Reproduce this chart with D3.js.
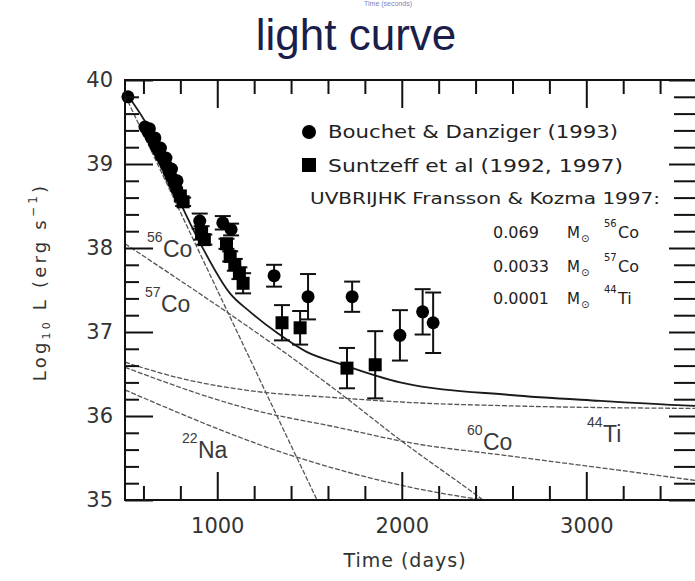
<!DOCTYPE html>
<html><head><meta charset="utf-8">
<script src="https://cdn.jsdelivr.net/npm/d3@7/dist/d3.min.js"></script>
<style>body{margin:0;background:#fff;} svg{display:block;}</style>
</head><body>
<svg id="chart" width="695" height="581"></svg>
<script>
// ---------- data ----------
const bouchetDay = [516, 608, 625, 641, 657, 670, 684, 697, 711, 724, 738, 752, 766, 780, 795, 632, 662, 692, 722, 752, 782, 905, 1030, 1075, 1308, 1492, 1731, 1990, 2113, 2170];
const bouchetLum = [39.80, 39.44, 39.38, 39.32, 39.26, 39.20, 39.15, 39.09, 39.04, 38.98, 38.91, 38.84, 38.77, 38.70, 38.63, 39.42, 39.31, 39.19, 39.07, 38.94, 38.80, 38.32, 38.30, 38.22, 37.67, 37.42, 37.42, 36.96, 37.24, 37.11];
const bouchetErr = [0, 0, 0, 0, 0, 0, 0, 0, 0, 0, 0, 0, 0, 0, 0, 0, 0, 0, 0, 0, 0, 0.09, 0.08, 0.07, 0.13, 0.27, 0.18, 0.30, 0.27, 0.36];

const suntzeffDay = [800, 815, 915, 930, 1050, 1070, 1095, 1120, 1140, 1351, 1449, 1703, 1856];
const suntzeffLum = [38.62, 38.55, 38.18, 38.10, 38.05, 37.90, 37.80, 37.70, 37.58, 37.11, 37.05, 36.57, 36.61];
const suntzeffErr = [0, 0.05, 0.08, 0.06, 0.06, 0.06, 0.07, 0.07, 0.12, 0.21, 0.20, 0.24, 0.40];

const totalDay = [500, 636, 798, 907, 1069, 1178, 1324, 1487, 1666, 1991, 2588, 3076, 3493, 3600];
const totalLum = [39.86, 39.40, 38.55, 38.06, 37.46, 37.24, 36.99, 36.76, 36.62, 36.40, 36.25, 36.18, 36.13, 36.12];

const co56Day = [500, 1069, 1541, 1600];
const co56Lum = [39.82, 37.18, 35.00, 34.73];
const co57Day = [500, 1666, 2000, 2440, 2500];
const co57Lum = [38.05, 36.27, 35.70, 35.00, 34.90];
const ti44Day = [500, 800, 1180, 1630, 2050, 2600, 3600];
const ti44Lum = [36.64, 36.45, 36.30, 36.22, 36.16, 36.12, 36.09];
const co60Day = [500, 1180, 1640, 2050, 2600, 3500, 3600];
const co60Lum = [36.58, 36.08, 35.87, 35.68, 35.52, 35.26, 35.23];
const na22Day = [500, 1430, 2050, 2500];
const na22Lum = [36.31, 35.51, 35.15, 34.98];

const xMajorTicks = [1000, 2000, 3000];
const xMinorTicks = [600, 800, 1200, 1400, 1600, 1800, 2200, 2400, 2600, 2800, 3200, 3400];
const yMajorTicks = [35, 36, 37, 38, 39, 40];
const yMinorTicks = [35.2, 35.4, 35.6, 35.8, 36.2, 36.4, 36.6, 36.8, 37.2, 37.4, 37.6, 37.8, 38.2, 38.4, 38.6, 38.8, 39.2, 39.4, 39.6, 39.8];

// ---------- layout ----------
const svg = d3.select("#chart");
const L = 125, R = 697, T = 80, B = 500;
const x = d3.scaleLinear().domain([500, 3600]).range([L, R]);
const y = d3.scaleLinear().domain([35, 40]).range([B, T]);
const FONT = "'DejaVu Sans', sans-serif";
const SANS = "'Liberation Sans', Arial, sans-serif";

// title
svg.append("text").attr("x", 388).attr("y", 6).attr("text-anchor", "middle")
  .attr("font-family", SANS).attr("font-size", 7).attr("fill", "#7a84c0").text("Time (seconds)");
svg.append("text").attr("x", 356).attr("y", 50).attr("text-anchor", "middle")
  .attr("font-family", SANS).attr("font-size", 44).attr("fill", "#1b1e4b").text("light curve");

// clip
svg.append("clipPath").attr("id", "clip").append("rect")
  .attr("x", L).attr("y", T).attr("width", R - L).attr("height", B - T);

// curves
const line = d3.line().x(d => x(d[0])).y(d => y(d[1])).curve(d3.curveMonotoneX);
const comps = [[co56Day, co56Lum], [co57Day, co57Lum], [ti44Day, ti44Lum], [co60Day, co60Lum], [na22Day, na22Lum]];
const cg = svg.append("g").attr("clip-path", "url(#clip)");
comps.forEach(c => {
  cg.append("path").attr("d", line(d3.zip(c[0], c[1])))
    .attr("fill", "none").attr("stroke", "#555").attr("stroke-width", 1.3).attr("stroke-dasharray", "5,1.8");
});
cg.append("path").attr("d", line(d3.zip(totalDay, totalLum)))
  .attr("fill", "none").attr("stroke", "#1a1a1a").attr("stroke-width", 1.8);

// error bars + markers
function errBars(days, lums, errs) {
  const g = svg.append("g").attr("stroke", "#111").attr("stroke-width", 2);
  days.forEach((d, i) => {
    if (!errs[i]) return;
    const cx = x(d), y1 = y(lums[i] - errs[i]), y2 = y(lums[i] + errs[i]);
    g.append("line").attr("x1", cx).attr("x2", cx).attr("y1", y1).attr("y2", y2);
    g.append("line").attr("x1", cx - 8).attr("x2", cx + 8).attr("y1", y1).attr("y2", y1);
    g.append("line").attr("x1", cx - 8).attr("x2", cx + 8).attr("y1", y2).attr("y2", y2);
  });
}
errBars(bouchetDay, bouchetLum, bouchetErr);
errBars(suntzeffDay, suntzeffLum, suntzeffErr);
svg.append("g").selectAll("circle").data(d3.zip(bouchetDay, bouchetLum)).join("circle")
  .attr("cx", d => x(d[0])).attr("cy", d => y(d[1])).attr("r", 6.5).attr("fill", "#000");
svg.append("g").selectAll("rect").data(d3.zip(suntzeffDay, suntzeffLum)).join("rect")
  .attr("x", d => x(d[0]) - 6.5).attr("y", d => y(d[1]) - 6.5).attr("width", 13).attr("height", 13).attr("fill", "#000");

// ticks (inward, all four sides)
function tickAxis(axisFn, scale, vals, size, tr) {
  const g = svg.append("g").attr("transform", tr)
    .call(axisFn(scale).tickValues(vals).tickSize(size).tickFormat(""));
  g.select(".domain").remove();
  g.selectAll("line").attr("stroke", "#111").attr("stroke-width", 2);
}
tickAxis(d3.axisTop, x, xMajorTicks, 28, `translate(0,${B})`);
tickAxis(d3.axisTop, x, xMinorTicks, 14, `translate(0,${B})`);
tickAxis(d3.axisBottom, x, xMajorTicks, 28, `translate(0,${T})`);
tickAxis(d3.axisBottom, x, xMinorTicks, 14, `translate(0,${T})`);
tickAxis(d3.axisRight, y, yMajorTicks, 28, `translate(${L},0)`);
tickAxis(d3.axisRight, y, yMinorTicks, 14, `translate(${L},0)`);
tickAxis(d3.axisLeft, y, yMajorTicks, 28, `translate(${R},0)`);
tickAxis(d3.axisLeft, y, yMinorTicks, 23, `translate(${R},0)`);

// frame
svg.append("rect").attr("x", L).attr("y", T).attr("width", R - L).attr("height", B - T)
  .attr("fill", "none").attr("stroke", "#111").attr("stroke-width", 2);

// tick labels
const xl = svg.append("g").attr("transform", `translate(0,${B})`)
  .call(d3.axisBottom(x).tickValues(xMajorTicks).tickSize(0).tickPadding(18).tickFormat(d3.format("d")));
xl.select(".domain").remove();
xl.selectAll("text").attr("font-family", FONT).attr("font-size", 21).attr("fill", "#333");
const yl = svg.append("g").attr("transform", `translate(${L},0)`)
  .call(d3.axisLeft(y).tickValues(yMajorTicks).tickSize(0).tickPadding(12).tickFormat(d3.format("d")));
yl.select(".domain").remove();
yl.selectAll("text").attr("font-family", FONT).attr("font-size", 21).attr("fill", "#333");

// axis titles
svg.append("text").attr("x", 405).attr("y", 567).attr("text-anchor", "middle")
  .attr("font-family", FONT).attr("font-size", 19).attr("fill", "#333").attr("letter-spacing", 1)
  .text("Time (days)");
const yt = svg.append("text").attr("transform", "translate(46,282) rotate(-90)").attr("text-anchor", "middle")
  .attr("font-family", FONT).attr("font-size", 18).attr("fill", "#333").attr("letter-spacing", 3.2);
yt.append("tspan").text("Log");
yt.append("tspan").attr("font-size", 11).attr("dy", 4).text("10");
yt.append("tspan").attr("dy", -4).text(" L (erg s");
yt.append("tspan").attr("font-size", 12).attr("dy", -9).text("−1");
yt.append("tspan").attr("dy", 9).text(")");

// legend
svg.append("circle").attr("cx", 309).attr("cy", 132).attr("r", 7).attr("fill", "#000");
svg.append("rect").attr("x", 302).attr("y", 158).attr("width", 14).attr("height", 14).attr("fill", "#000");
function lt(xp, yp, txt, size, len) {
  svg.append("text").attr("x", xp).attr("y", yp).attr("font-family", FONT).attr("font-size", size)
    .attr("fill", "#222").attr("textLength", len).attr("lengthAdjust", "spacingAndGlyphs").text(txt);
}
lt(328, 138, "Bouchet & Danziger (1993)", 18, 290);
lt(328, 172, "Suntzeff et al (1992, 1997)", 18, 295);
lt(310, 204, "UVBRIJHK Fransson & Kozma 1997:", 16, 350);
const massRows = [["0.069", "56", "Co", 238], ["0.0033", "57", "Co", 272], ["0.0001", "44", "Ti", 304]];
massRows.forEach(r => {
  svg.append("text").attr("x", 493).attr("y", r[3]).attr("font-family", FONT).attr("font-size", 16).attr("fill", "#222").text(r[0]);
  svg.append("text").attr("x", 567).attr("y", r[3]).attr("font-family", FONT).attr("font-size", 15).attr("fill", "#222").text("M");
  svg.append("text").attr("x", 581).attr("y", r[3] + 4).attr("font-family", FONT).attr("font-size", 10).attr("fill", "#222").text("⊙");
  svg.append("text").attr("x", 604).attr("y", r[3] - 11).attr("font-family", FONT).attr("font-size", 10).attr("fill", "#222").text(r[1]);
  svg.append("text").attr("x", 618).attr("y", r[3]).attr("font-family", FONT).attr("font-size", 16).attr("fill", "#222").text(r[2]);
});

// curve labels
const curveLabels = [["56", "Co", 147, 257], ["57", "Co", 145, 312], ["22", "Na", 182, 458], ["60", "Co", 467, 450], ["44", "Ti", 587, 442]];
curveLabels.forEach(c => {
  svg.append("text").attr("x", c[2]).attr("y", c[3] - 15).attr("font-family", SANS).attr("font-size", 14).attr("fill", "#3a3a3a").text(c[0]);
  svg.append("text").attr("x", c[2] + 16).attr("y", c[3]).attr("font-family", SANS).attr("font-size", 23).attr("fill", "#3a3a3a").text(c[1]);
});
</script>
</body></html>
